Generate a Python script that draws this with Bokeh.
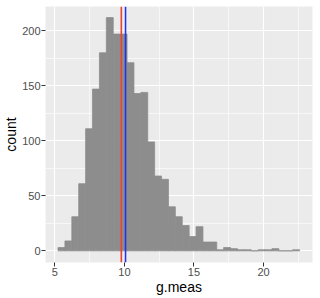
from bokeh.plotting import figure
from bokeh.models import Range1d, Span, SingleIntervalTicker, ColumnDataSource
from bokeh.embed import file_html
from bokeh.resources import INLINE

# histogram data
bin_start = 5.23
bin_width = 0.496
counts = [3, 9, 31, 61, 111, 147, 180, 212, 197, 197,
          171, 143, 144, 99, 68, 65, 40, 31, 23, 13,
          22, 8, 8, 1, 3, 2, 1, 1, 0, 1,
          1, 2, 0, 0, 1]
x_ticks = [5, 10, 15, 20]
y_ticks = [0, 50, 100, 150, 200]
median_val = 9.78
mean_val = 10.08

lefts = [bin_start + i * bin_width for i in range(len(counts))]
rights = [l + bin_width for l in lefts]
src = ColumnDataSource(dict(left=lefts, right=rights, top=counts, bottom=[0] * len(counts)))

FONT = "Liberation Sans"

p = figure(width=320, height=298, output_backend="svg", toolbar_location=None,
           x_range=Range1d(4.33, 23.52), y_range=Range1d(-10.6, 222.1),
           min_border_left=45, min_border_right=8, min_border_top=6, min_border_bottom=36)
p.background_fill_color = "#EBEBEB"
p.border_fill_color = "white"
p.outline_line_color = None

p.quad(left="left", right="right", top="top", bottom="bottom", source=src,
       fill_color="#8D8D8D", line_color="#8D8D8D", line_width=0.8)

p.add_layout(Span(location=median_val, dimension="height", line_color="#E8442E", line_width=1.6))
p.add_layout(Span(location=mean_val, dimension="height", line_color="#1F33E8", line_width=1.6))

p.xaxis.ticker = SingleIntervalTicker(interval=5, num_minor_ticks=2)
p.yaxis.ticker = SingleIntervalTicker(interval=50, num_minor_ticks=2)

for g in (p.xgrid, p.ygrid):
    g.grid_line_color = "white"
    g.grid_line_width = 1.2
    g.minor_grid_line_color = "white"
    g.minor_grid_line_width = 0.6

for ax in (p.xaxis, p.yaxis):
    ax.axis_line_color = None
    ax.minor_tick_line_color = None
    ax.major_tick_line_color = "#333333"
    ax.major_tick_line_width = 1
    ax.major_tick_out = 4
    ax.major_tick_in = 0
    ax.major_label_text_font = FONT
    ax.major_label_text_font_size = "11px"
    ax.major_label_text_color = "#4D4D4D"
    ax.major_label_standoff = 1
    ax.axis_label_text_font = FONT
    ax.axis_label_text_font_size = "14px"
    ax.axis_label_text_font_style = "normal"
    ax.axis_label_text_color = "black"

p.xaxis.axis_label = "g.meas"
p.yaxis.axis_label = "count"
p.xaxis.axis_label_standoff = 0
p.yaxis.axis_label_standoff = 0

open("out.html", "w").write(file_html(p, INLINE))
